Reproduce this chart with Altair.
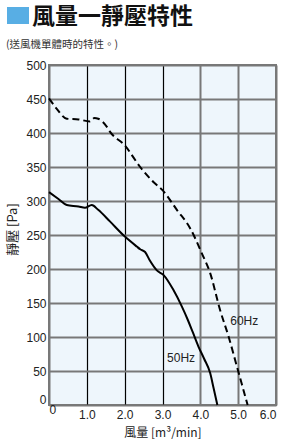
import altair as alt
import pandas as pd

# 50Hz curve (solid)
x50 = [0, 0.25, 0.47, 0.78, 0.95, 1.13, 1.3, 1.61, 2.0, 2.32, 2.41, 2.54, 2.67, 2.85, 3.03, 3.29, 3.51, 3.67, 3.8, 3.95, 4.1, 4.26, 4.35, 4.45]
y50 = [313, 303, 294, 292, 290, 294, 287, 270, 248, 233, 229, 225, 212, 198, 191, 169, 145, 125, 107, 86, 68, 47, 25, 0]

# 60Hz curve (dashed)
x60 = [0, 0.2, 0.47, 0.78, 1.08, 1.2, 1.3, 1.53, 1.61, 2.0, 2.41, 2.76, 3.0, 3.38, 3.73, 4.04, 4.26, 4.52, 4.75, 4.97, 5.25]
y60 = [451, 436, 421, 420, 417, 422, 421, 409, 402, 382, 350, 328, 316, 287, 260, 223, 194, 140, 100, 56, 0]

# curve labels
label_text = ["50Hz", "60Hz"]
label_x = [3.49, 5.16]
label_y = [69, 124]

x_ticks = [0, 1, 2, 3, 4, 5, 6]
y_ticks = [0, 50, 100, 150, 200, 250, 300, 350, 400, 450, 500]

TITLE = "風量一靜壓特性"
SUBTITLE = "(送風機單體時的特性。)"
X_TITLE = "風量 [m³/min]"
Y_TITLE = "靜壓 [Pa]"

FONT = "Liberation Sans"
CJK = "Noto Sans CJK TC"
GRAY = "#787878"

df50 = pd.DataFrame({"x": x50, "y": y50})
df60 = pd.DataFrame({"x": x60, "y": y60})
dfl = pd.DataFrame({"x": label_x, "y": label_y, "t": label_text})

xscale = alt.Scale(domain=[0, 6], nice=False, zero=False)
yscale = alt.Scale(domain=[0, 500], nice=False)

xaxis = alt.Axis(
    values=x_ticks, labelOverlap=False,
    labelExpr="datum.value == 0 ? '0' : format(datum.value, '.1f')",
    ticks=False, domain=False,
    labelFont=FONT, labelFontSize=12, labelColor="#222", labelPadding=4,
    labelBaseline={"condition": {"test": "datum.value == 0", "value": "middle"}, "value": "top"},
    gridColor={"condition": {"test": "datum.value >= 1 && datum.value <= 3", "value": "#000000"}, "value": GRAY},
    gridWidth={"condition": {"test": "datum.value >= 1 && datum.value <= 3", "value": 1.2}, "value": 2},
    gridOpacity=1,
    title=X_TITLE, titleFont=CJK, titleFontSize=12, titleFontWeight="normal", titleColor="#222",
    titleY=27, titleBaseline="middle",
)
yaxis = alt.Axis(
    values=y_ticks, labelOverlap=False,
    ticks=False, domain=False,
    labelFont=FONT, labelFontSize=12, labelColor="#222", labelPadding=3,
    labelOffset={"condition": {"test": "datum.value == 0", "value": -6}, "value": 0},
    gridColor=GRAY, gridWidth=2, gridOpacity=1,
    title=Y_TITLE, titleFont=CJK, titleFontSize=13, titleFontWeight="normal", titleColor="#222",
    titleX=-37, titleY=164, titleBaseline="middle", titleAlign="center", titleAngle=270,
)

X = alt.X("x:Q", scale=xscale, axis=xaxis)
Y = alt.Y("y:Q", scale=yscale, axis=yaxis)

line50 = alt.Chart(df50).mark_line(color="black", strokeWidth=2, interpolate="monotone").encode(x=X, y=Y)
line60 = alt.Chart(df60).mark_line(color="black", strokeWidth=2, strokeDash=[7, 4], interpolate="monotone").encode(x=X, y=Y)
labels = alt.Chart(dfl).mark_text(font=FONT, fontSize=12, color="#222", align="center", baseline="middle").encode(
    x=X, y=Y, text="t:N",
)

one = alt.Data(values=[{"a": 1}])
square = alt.Chart(one).mark_rect(color="#58AEE4").encode(
    x=alt.value(-42), x2=alt.value(-20), y=alt.value(-58), y2=alt.value(-41)
)
title = alt.Chart(one).mark_text(font=CJK, fontSize=23, fontWeight="bold", color="#111",
                                 align="left", baseline="middle").encode(
    x=alt.value(-17), y=alt.value(-48), text=alt.value(TITLE)
)
subtitle = alt.Chart(one).mark_text(font=CJK, fontSize=10.5, color="#333",
                                    align="left", baseline="middle").encode(
    x=alt.value(-43), y=alt.value(-20), text=alt.value(SUBTITLE)
)

chart = alt.layer(line50, line60, labels, square, title, subtitle).properties(
    width=227, height=340,
    autosize="none",
    padding={"left": 49, "top": 65, "right": 10, "bottom": 35},
    background="white",
).configure_view(fill="#EEF6FC", stroke=GRAY, strokeWidth=2)

chart.save("out.html", embed_options={"renderer": "svg", "actions": False})
